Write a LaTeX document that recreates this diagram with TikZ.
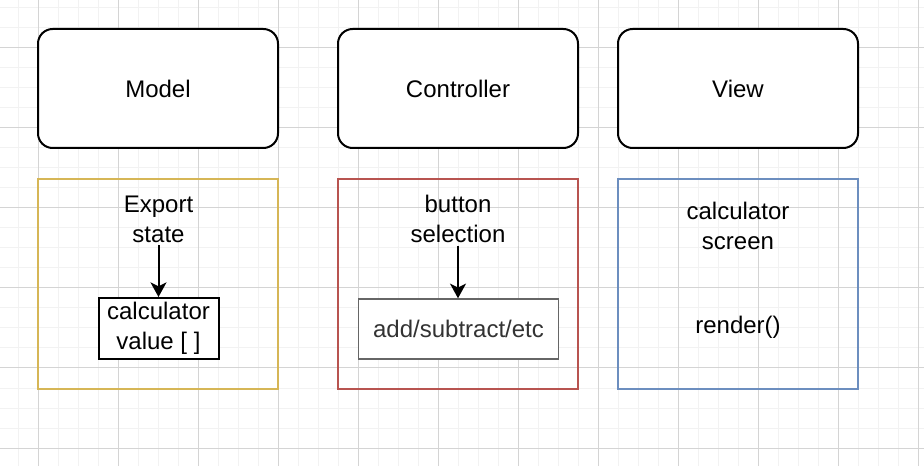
\documentclass[tikz,border=0pt]{standalone}
\usepackage{fontspec}
\setmainfont{Liberation Sans}
\usetikzlibrary{arrows.meta}

\definecolor{gridminor}{HTML}{F2F2F2}
\definecolor{gridmajor}{HTML}{D4D4D4}
\definecolor{modelcol}{HTML}{D6B656}
\definecolor{ctrlcol}{HTML}{B85450}
\definecolor{viewcol}{HTML}{6C8EBF}
\definecolor{darkgray}{HTML}{666666}
\definecolor{txtgray}{HTML}{333333}

\tikzset{
	label/.style={font=\fontsize{18}{22.5}\selectfont, align=center, inner sep=2pt},
	titlebox/.style={draw, line width=1.5pt, rounded corners=11pt, minimum width=180pt, minimum height=89.25pt, label},
	partbox/.style={draw, line width=1.1pt, minimum width=180pt, minimum height=157.5pt},
	arr/.style={line width=1.5pt, -{Stealth[length=11pt, width=12pt, inset=3pt]}}
}

\begin{document}
\begin{tikzpicture}[x=0.75pt, y=-0.75pt]
				\useasboundingbox (0,0) rectangle (924,466);
				\fill[white] (0,0) rectangle (924,466);

				% grid
				\foreach \x in {18,38,...,918}
				\draw[gridminor, line width=0.75pt] (\x,0) -- (\x,466);
				\foreach \y in {8,28,...,458}
				\draw[gridminor, line width=0.75pt] (0,\y) -- (924,\y);
				\foreach \x in {38,118,...,918}
				\draw[gridmajor, line width=0.75pt] (\x,0) -- (\x,466);
				\foreach \y in {48,128,...,448}
				\draw[gridmajor, line width=0.75pt] (0,\y) -- (924,\y);

				% headers
				\node[titlebox, fill=white] (model) at (158,88.5) {Model};
				\node[titlebox, fill=white] (controller) at (458,88.5) {Controller};
				\node[titlebox, fill=white] (view) at (738,88.5) {View};

				% parts
				\node[partbox, draw=modelcol] (modelPart) at (158,284) {};
				\node[partbox, draw=ctrlcol] (ctrlPart) at (458,284) {};
				\node[partbox, draw=viewcol] (viewPart) at (738,284) {};

				% model
				\node[label] (exportTxt) at (158.5,219) {Export\\state};
				\node[label, draw, line width=1.5pt, fill=white, minimum width=90pt, minimum height=45.75pt, inner sep=0pt] (calcValue) at (158.5,328.5) {calculator\\value [ ]};
				\draw[arr] (exportTxt.south) -- (calcValue.north);

				% controller
				\node[label] (buttonTxt) at (458,219) {button\\selection};
				\node[label, draw=darkgray, text=txtgray, line width=1.1pt, fill=white, minimum width=150pt, minimum height=45pt] (addSub) at (458.5,329) {add/subtract/etc};
				\draw[arr] (buttonTxt.south) -- (buttonTxt.south |- addSub.north);

				% view
				\node[label] (screenTxt) at (738,226) {calculator\\screen};
				\node[label] (renderTxt) at (738,327) {render()};

			\end{tikzpicture}
\end{document}
